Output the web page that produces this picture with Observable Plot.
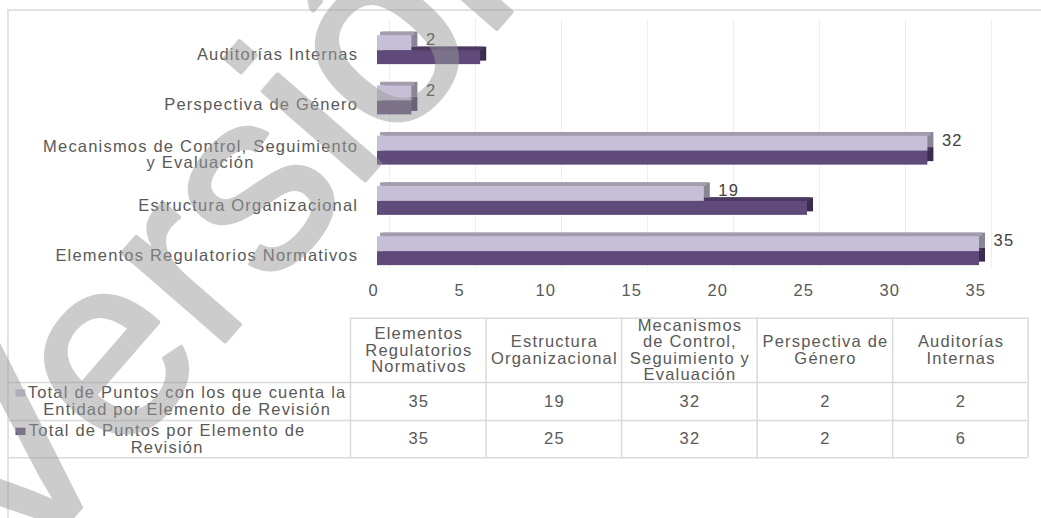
<!DOCTYPE html>
<html>
<head>
<meta charset="utf-8">
<script src="https://cdn.jsdelivr.net/npm/d3@7"></script>
<script src="https://cdn.jsdelivr.net/npm/@observablehq/plot@0.6"></script>
<style>
html, body { margin: 0; padding: 0; background: #fff; }
#wrap { position: relative; width: 1041px; height: 518px; overflow: hidden; background: #fff; }
#frame { position: absolute; left: 7px; top: 9px; width: 1100px; height: 600px; border-left: 2px solid #e2e2e2; border-top: 2px solid #e2e2e2; }
.layer { position: absolute; left: 0; }
#chart svg text, #table svg text { letter-spacing: 1.2px; }
#mark svg text { letter-spacing: 0px; }
</style>
</head>
<body>
<div id="wrap">
  <div id="frame"></div>
  <div id="chart" class="layer" style="top:0px"></div>
  <div id="table" class="layer" style="top:310px"></div>
  <div id="mark" class="layer" style="top:0px;pointer-events:none"></div>
</div>
<script>
// ---------- data ----------
const categories = [
  "Elementos Regulatorios Normativos",
  "Estructura Organizacional",
  "Mecanismos de Control, Seguimiento y Evaluación",
  "Perspectiva de Género",
  "Auditorías Internas"
];
const chartAxisLabels = [
  "Elementos Regulatorios Normativos",
  "Estructura Organizacional",
  "Mecanismos de Control, Seguimiento\ny Evaluación",
  "Perspectiva de Género",
  "Auditorías Internas"
];
const tableHeaders = [
  "Elementos\nRegulatorios\nNormativos",
  "Estructura\nOrganizacional",
  "Mecanismos\nde Control,\nSeguimiento y\nEvaluación",
  "Perspectiva de\nGénero",
  "Auditorías\nInternas"
];
const seriesLabels = [
  "Total de Puntos con los que cuenta la\nEntidad por Elemento de Revisión",
  "Total de Puntos por Elemento de\nRevisión"
];
const puntosEntidad = [35, 19, 32, 2, 2];
const puntosTotales = [35, 25, 32, 2, 6];
const xTicks = [0, 5, 10, 15, 20, 25, 30, 35];
const watermarkText = "Versión";

// ---------- styles ----------
const LIGHT = {front: "#c7bfd7", top: "#a29cad", side: "#8a8594"};
const DARK = {front: "#5f4a7a", top: "#4b3962", side: "#3b2b50"};
const TXT = "#595959";
const FONT = '"Liberation Sans", Arial, Helvetica, sans-serif';
const FS = 16.5;
const LS = 1.2;

const rowsEntidad = categories.map((c, i) => ({cat: c, v: puntosEntidad[i], label: chartAxisLabels[i]}));
const rowsTotales = categories.map((c, i) => ({cat: c, v: puntosTotales[i]}));
const yDomain = categories.slice().reverse();

const STEP = 50.25;
function bar3d(data, col, iTop, iBot) {
  const h = STEP - iTop - iBot;
  return [
    Plot.barX(data, {x: "v", y: "cat", fill: col.side, insetTop: iTop, insetBottom: iBot, dx: 6, dy: -3.5}),
    Plot.barX(data, {x: "v", y: "cat", fill: col.top, insetTop: iTop, insetBottom: iBot + h - 3.5, dx: 3, dy: -3.5}),
    Plot.barX(data, {x: "v", y: "cat", fill: col.front, insetTop: iTop, insetBottom: iBot})
  ];
}

const chart = Plot.plot({
  width: 1041,
  height: 310,
  marginLeft: 377,
  marginRight: 62,
  marginTop: 25,
  marginBottom: 33.75,
  style: {fontFamily: FONT, fontSize: FS + "px", background: "transparent", overflow: "visible"},
  x: {domain: [0, 35], axis: null},
  y: {type: "band", domain: yDomain, padding: 0, round: false, axis: null},
  marks: [
    Plot.ruleX(xTicks, {x: d => d, dx: 12, stroke: "#eeeeee", strokeWidth: 1, insetTop: -6, insetBottom: 8}),
    ...bar3d(rowsTotales, DARK, 25.125, 11.125),
    ...bar3d(rowsEntidad, LIGHT, 10.125, 25.125),
    Plot.text(rowsEntidad, {x: "v", y: "cat", text: d => String(d.v), textAnchor: "start", dx: 14, dy: -10.5, fill: "#404040", fontSize: FS}),
    Plot.text(rowsEntidad.filter(d => !d.label.includes("\n")), {y: "cat", text: "label", frameAnchor: "left", textAnchor: "end", dx: -20.5 + LS, dy: 4, fill: TXT, fontSize: FS}),
    Plot.text(rowsEntidad.filter(d => d.label.includes("\n")), {y: "cat", text: "label", frameAnchor: "left", textAnchor: "middle", dx: -177.5 + LS / 2, dy: 4, lineHeight: 0.97, fill: TXT, fontSize: FS}),
    Plot.text(xTicks, {x: d => d, text: d => String(d), frameAnchor: "bottom", dy: 19, dx: -4.3 + LS / 2, fill: TXT, fontSize: FS})
  ]
});
document.getElementById("chart").appendChild(chart);

// ---------- data table ----------
const T0 = 350, TW = 135.54, TY0 = 317.7;
const px = p => (p - T0) / TW;      // page x -> table column units
const rowEdges = [0, 64.3, 102.3, 139.6];
const headMid = (rowEdges[0] + rowEdges[1]) / 2;
const row1Mid = (rowEdges[1] + rowEdges[2]) / 2;
const row2Mid = (rowEdges[2] + rowEdges[3]) / 2;
const GRID = {stroke: "#dadada", strokeWidth: 1.5};

const table = Plot.plot({
  width: 1041,
  height: 150,
  marginLeft: T0,
  marginRight: 1041 - (T0 + 5 * TW),
  marginTop: 7.7,
  marginBottom: 2.7,
  style: {fontFamily: FONT, fontSize: FS + "px", background: "transparent", overflow: "visible"},
  x: {domain: [0, 5], axis: null},
  y: {domain: [0, rowEdges[3]], range: [TY0 - 310, TY0 - 310 + rowEdges[3]], axis: null},
  marks: [
    Plot.ruleX(d3.range(categories.length + 1), {x: d => d, y1: 0, y2: rowEdges[3], ...GRID}),
    Plot.ruleY([rowEdges[0]], {y: d => d, x1: 0, x2: 5, ...GRID}),
    Plot.ruleY(rowEdges.slice(1), {y: d => d, x1: px(8), x2: 5, ...GRID}),
    Plot.text(tableHeaders, {x: (d, i) => i + 0.5, y: () => headMid, text: d => d, lineHeight: 0.99, fill: TXT, fontSize: FS, dx: LS / 2}),
    Plot.text(puntosEntidad, {x: (d, i) => i + 0.5, y: () => row1Mid, text: d => String(d), fill: TXT, fontSize: FS, dx: LS / 2}),
    Plot.text(puntosTotales, {x: (d, i) => i + 0.5, y: () => row2Mid, text: d => String(d), fill: TXT, fontSize: FS, dx: LS / 2}),
    Plot.rect([seriesLabels[0]], {x1: px(15.5), x2: px(25.5), y1: () => 389.3 - TY0, y2: () => 396.7 - TY0, fill: LIGHT.front}),
    Plot.rect([seriesLabels[1]], {x1: px(15.5), x2: px(25.5), y1: () => 427.7 - TY0, y2: () => 435 - TY0, fill: DARK.front}),
    Plot.text([seriesLabels[0]], {frameAnchor: "left", y: () => row1Mid, text: d => d, textAnchor: "middle", dx: 186 - T0 + LS / 2, lineHeight: 1.03, fill: TXT, fontSize: FS}),
    Plot.text([seriesLabels[1]], {frameAnchor: "left", y: () => row2Mid, text: d => d, textAnchor: "middle", dx: 166 - T0 + LS / 2, lineHeight: 1.03, fill: TXT, fontSize: FS})
  ]
});
document.getElementById("table").appendChild(table);

// ---------- watermark ----------
const mark = Plot.plot({
  width: 1041,
  height: 518,
  margin: 0,
  style: {fontFamily: FONT, background: "transparent"},
  x: {domain: [0, 1], axis: null},
  y: {domain: [0, 1], axis: null},
  marks: [
    Plot.text([watermarkText], {frameAnchor: "top-left", text: d => d, dx: -46, dy: 527, rotate: -49, fontSize: 257, fill: "#9a9a9a", stroke: "#9a9a9a", strokeWidth: 4, strokeLinejoin: "round", opacity: 0.5, textAnchor: "start", lineAnchor: "middle"})
  ]
});
document.getElementById("mark").appendChild(mark);
</script>
</body>
</html>
